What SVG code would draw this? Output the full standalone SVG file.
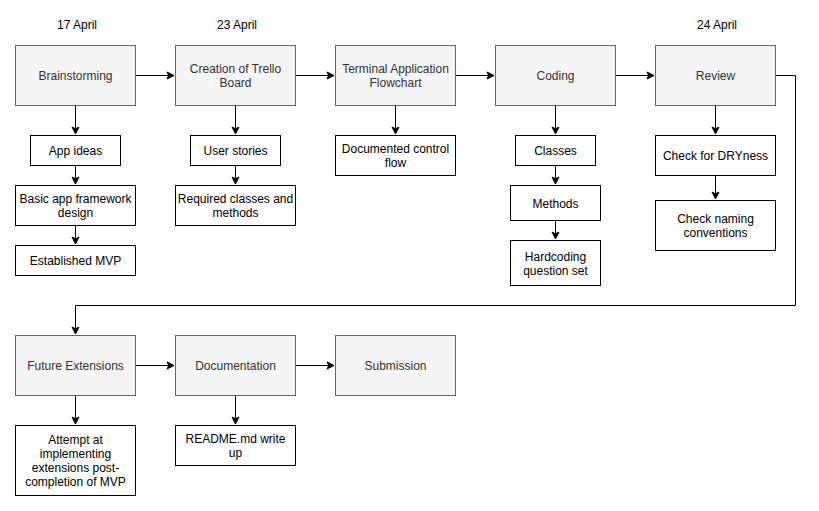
<svg xmlns="http://www.w3.org/2000/svg" width="819" height="511" viewBox="0 0 819 511">
<style>
text{font-family:"Liberation Sans",Arial,sans-serif;font-size:12px;text-anchor:middle}
.main rect{fill:#f5f5f5;stroke:#666666;stroke-width:1}
.main text{fill:#333333}
.sub rect{fill:#ffffff;stroke:#000000;stroke-width:1}
.sub text{fill:#000000}
.date{fill:#000000}
#connectors path{fill:none;stroke:#000000;stroke-width:1}
</style>
<defs>
<marker id="arr" markerUnits="userSpaceOnUse" markerWidth="10" markerHeight="10" viewBox="0 0 10 10" refX="8" refY="5" orient="auto">
<path d="M1,1.5 L8,5 L1,8.5 L2.8,5 Z" fill="#000" stroke="#000" stroke-width="1"/>
</marker>
</defs>
<rect width="819" height="511" fill="#ffffff"/>
<text class="date" x="77" y="29">17 April</text>
<text class="date" x="237" y="29">23 April</text>
<text class="date" x="717" y="29">24 April</text>

<g id="connectors">
<path d="M135.5,75.5 H174" marker-end="url(#arr)"/>
<path d="M295.5,75.5 H334" marker-end="url(#arr)"/>
<path d="M455.5,75.5 H494" marker-end="url(#arr)"/>
<path d="M615.5,75.5 H654" marker-end="url(#arr)"/>
<path d="M775.5,75.5 H795.5 V305.5 H75.5 V334" marker-end="url(#arr)"/>
<path d="M135.5,365.5 H174" marker-end="url(#arr)"/>
<path d="M295.5,365.5 H334" marker-end="url(#arr)"/>
<path d="M75.5,105.5 V134" marker-end="url(#arr)"/>
<path d="M75.5,165.5 V184" marker-end="url(#arr)"/>
<path d="M75.5,225.5 V244" marker-end="url(#arr)"/>
<path d="M235.5,105.5 V134" marker-end="url(#arr)"/>
<path d="M235.5,165.5 V184" marker-end="url(#arr)"/>
<path d="M395.5,105.5 V134" marker-end="url(#arr)"/>
<path d="M555.5,105.5 V134" marker-end="url(#arr)"/>
<path d="M555.5,165.5 V184" marker-end="url(#arr)"/>
<path d="M555.5,220.5 V239" marker-end="url(#arr)"/>
<path d="M715.5,105.5 V134" marker-end="url(#arr)"/>
<path d="M715.5,175.5 V199" marker-end="url(#arr)"/>
<path d="M75.5,395.5 V424" marker-end="url(#arr)"/>
<path d="M235.5,395.5 V424" marker-end="url(#arr)"/>
</g>

<g id="brainstorming" class="main"><rect x="15.5" y="45.5" width="120" height="60"/><text x="75.5" y="80">Brainstorming</text></g>
<g id="trello" class="main"><rect x="175.5" y="45.5" width="120" height="60"/><text x="235.5" y="73">Creation of Trello</text><text x="235.5" y="87">Board</text></g>
<g id="flowchart" class="main"><rect x="335.5" y="45.5" width="120" height="60"/><text x="395.5" y="73">Terminal Application</text><text x="395.5" y="87">Flowchart</text></g>
<g id="coding" class="main"><rect x="495.5" y="45.5" width="120" height="60"/><text x="555.5" y="80">Coding</text></g>
<g id="review" class="main"><rect x="655.5" y="45.5" width="120" height="60"/><text x="715.5" y="80">Review</text></g>

<g id="app-ideas" class="sub"><rect x="30.5" y="135.5" width="90" height="30"/><text x="75.5" y="155">App ideas</text></g>
<g id="framework" class="sub"><rect x="15.5" y="185.5" width="120" height="40"/><text x="75.5" y="203">Basic app framework</text><text x="75.5" y="217">design</text></g>
<g id="mvp" class="sub"><rect x="15.5" y="245.5" width="120" height="30"/><text x="75.5" y="265">Established MVP</text></g>
<g id="user-stories" class="sub"><rect x="190.5" y="135.5" width="90" height="30"/><text x="235.5" y="155">User stories</text></g>
<g id="req-classes" class="sub"><rect x="175.5" y="185.5" width="120" height="40"/><text x="235.5" y="203">Required classes and</text><text x="235.5" y="217">methods</text></g>
<g id="control-flow" class="sub"><rect x="335.5" y="135.5" width="120" height="40"/><text x="395.5" y="153">Documented control</text><text x="395.5" y="167">flow</text></g>
<g id="classes" class="sub"><rect x="515.5" y="135.5" width="80" height="30"/><text x="555.5" y="155">Classes</text></g>
<g id="methods" class="sub"><rect x="510.5" y="185.5" width="90" height="35"/><text x="555.5" y="208">Methods</text></g>
<g id="hardcoding" class="sub"><rect x="510.5" y="240.5" width="90" height="45"/><text x="555.5" y="261">Hardcoding</text><text x="555.5" y="275">question set</text></g>
<g id="dryness" class="sub"><rect x="655.5" y="135.5" width="120" height="40"/><text x="715.5" y="160">Check for DRYness</text></g>
<g id="naming" class="sub"><rect x="655.5" y="200.5" width="120" height="50"/><text x="715.5" y="223">Check naming</text><text x="715.5" y="237">conventions</text></g>

<g id="future" class="main"><rect x="15.5" y="335.5" width="120" height="60"/><text x="75.5" y="370">Future Extensions</text></g>
<g id="documentation" class="main"><rect x="175.5" y="335.5" width="120" height="60"/><text x="235.5" y="370">Documentation</text></g>
<g id="submission" class="main"><rect x="335.5" y="335.5" width="120" height="60"/><text x="395.5" y="370">Submission</text></g>

<g id="attempt" class="sub"><rect x="15.5" y="425.5" width="120" height="70"/><text x="75.5" y="444">Attempt at</text><text x="75.5" y="458">implementing</text><text x="75.5" y="472">extensions post-</text><text x="75.5" y="486">completion of MVP</text></g>
<g id="readme" class="sub"><rect x="175.5" y="425.5" width="120" height="40"/><text x="235.5" y="443">README.md write</text><text x="235.5" y="457">up</text></g>
</svg>
